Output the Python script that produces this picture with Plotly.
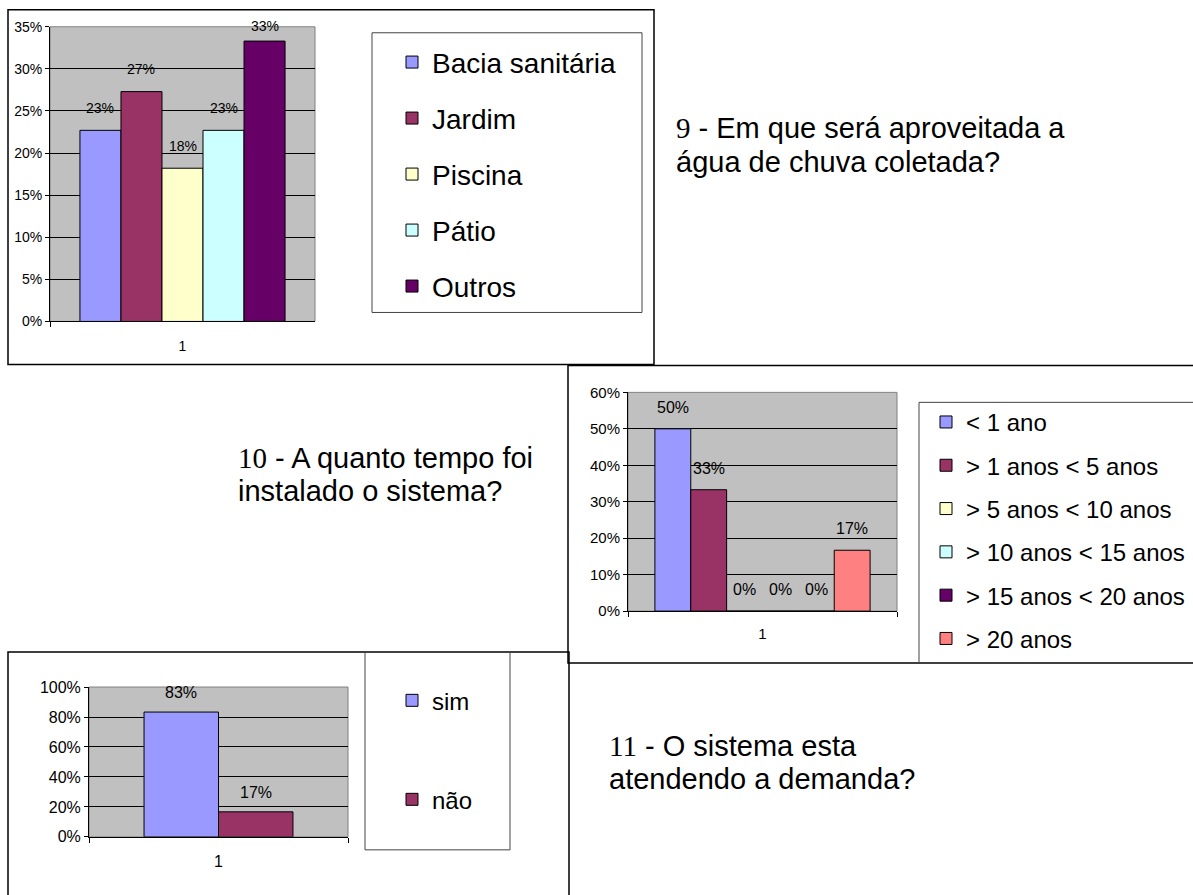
import plotly.graph_objects as go

W, H = 1193, 895
FONT = "Liberation Sans, Arial, Helvetica, sans-serif"
SERIF = "Liberation Serif"

# ---------------- data ----------------
x_categoria = ["1"]

uso_categorias = ["Bacia sanitária", "Jardim", "Piscina", "Pátio", "Outros"]
uso_valores = [0.227, 0.273, 0.182, 0.227, 0.333]
uso_cores = ["#9999FF", "#993366", "#FFFFCC", "#CCFFFF", "#660066"]

tempo_categorias = ["< 1 ano", "> 1 anos < 5 anos", "> 5 anos < 10 anos",
                    "> 10 anos < 15 anos", "> 15 anos < 20 anos", "> 20 anos"]
tempo_valores = [0.50, 0.333, 0.0, 0.0, 0.0, 0.167]
tempo_cores = ["#9999FF", "#993366", "#FFFFCC", "#CCFFFF", "#660066", "#FF8080"]

demanda_categorias = ["sim", "não"]
demanda_valores = [0.833, 0.167]
demanda_cores = ["#9999FF", "#993366"]

pergunta9 = [f"<span style='font-family:{SERIF}'>9</span> - Em que será aproveitada a",
             "água de chuva coletada?"]
pergunta10 = [f"<span style='font-family:{SERIF}'>10</span> - A quanto tempo foi",
              "instalado o sistema?"]
pergunta11 = [f"<span style='font-family:{SERIF}'>11</span> - O sistema esta",
              "atendendo a demanda?"]

# the page is photographed with a small vertical offset/compression; compensate
Y_OFF, Y_SCALE = 8.2, 0.981


def px_x(p):
    return p / W


def px_y(p):
    return 1 - ((p - Y_OFF) / Y_SCALE) / H


charts = [
    dict(cats=uso_categorias, vals=uso_valores, cols=uso_cores, ax="", legend="legend",
         left=50, right=315, top=26, bottom=321, ymax=0.35, dtick=0.05, group=0.774,
         tickfont=14, labfont=14, labshift=22, xstand=12),
    dict(cats=tempo_categorias, vals=tempo_valores, cols=tempo_cores, ax="2", legend="legend2",
         left=628, right=897, top=392, bottom=611, ymax=0.60, dtick=0.1, group=0.80,
         tickfont=15, labfont=16, labshift=21, xstand=9),
    dict(cats=demanda_categorias, vals=demanda_valores, cols=demanda_cores, ax="3", legend="legend3",
         left=89, right=348, top=687, bottom=837, ymax=1.0, dtick=0.2, group=0.575,
         tickfont=16, labfont=16, labshift=19, xstand=10),
]

fig = go.Figure()
annotations = []
shapes = []
layout_axes = {}

for k, c in enumerate(charts):
    n = len(c["cats"])
    w = c["group"] / n
    xa = "x" + c["ax"]
    ya = "y" + c["ax"]
    for i, (name, v, col) in enumerate(zip(c["cats"], c["vals"], c["cols"])):
        off = -c["group"] / 2 + i * w
        fig.add_trace(go.Bar(
            x=x_categoria, y=[v], name=name, width=w, offset=off,
            marker=dict(color=col, line=dict(color="black", width=1)),
            xaxis=xa, yaxis=ya, legend=c["legend"], legendgroup=f"g{k}_{i}",
            hovertemplate="%{y:.0%}<extra>" + name + "</extra>",
        ))
        bar_top = c["bottom"] - v / c["ymax"] * (c["bottom"] - c["top"])
        shift = min(c["labshift"], bar_top - c["top"])
        annotations.append(dict(
            x=off + w / 2, y=v, xref=xa, yref=ya, text=f"{v:.0%}",
            showarrow=False, yanchor="middle", xanchor="center", yshift=shift / Y_SCALE,
            font=dict(size=c["labfont"], family=FONT, color="black"),
        ))
    layout_axes["xaxis" + c["ax"]] = dict(
        domain=[px_x(c["left"]), px_x(c["right"])], anchor=ya, type="category",
        range=[-0.5, 0.5], showline=True, linecolor="black", linewidth=1,
        ticks="outside", tickson="boundaries", ticklen=5, tickcolor="black",
        showgrid=False, zeroline=False, fixedrange=True,
        tickfont=dict(size=c["tickfont"], family=FONT, color="black"),
        ticklabelstandoff=c["xstand"],
    )
    layout_axes["yaxis" + c["ax"]] = dict(
        domain=[px_y(c["bottom"]), px_y(c["top"])], anchor=xa,
        range=[0, c["ymax"] * 1.000001], dtick=c["dtick"], tick0=0, tickformat=".0%",
        showline=True, linecolor="black", linewidth=1, ticks="outside", ticklen=4,
        tickcolor="black", showgrid=True, gridcolor="black", gridwidth=1,
        zeroline=False, fixedrange=True,
        tickfont=dict(size=c["tickfont"], family=FONT, color="black"),
    )
    shapes.append(dict(type="rect", xref=xa + " domain", yref=ya + " domain",
                       x0=0, x1=1, y0=0, y1=1, line=dict(color="#808080", width=1),
                       layer="below"))


def frame(x0, y0, x1, y1, color="black", width=1.5):
    return dict(type="rect", xref="paper", yref="paper",
                x0=px_x(x0), x1=px_x(x1), y0=px_y(y1), y1=px_y(y0),
                line=dict(color=color, width=width), layer="above")


shapes += [
    frame(8, 9, 654, 364),
    frame(568, 365, 1200, 663),
    frame(8, 652, 569, 920),
    frame(372, 32, 642, 312, color="#444444", width=1),
    frame(919, 402, 1200, 663, color="#444444", width=1),
    frame(365, 652, 510, 850, color="#444444", width=1),
]

for lines, xp, ys in [(pergunta9, 674, (127.5, 161)),
                      (pergunta10, 236, (458, 491)),
                      (pergunta11, 607, (746, 779))]:
    for txt, yp in zip(lines, ys):
        annotations.append(dict(
            x=px_x(xp), y=px_y(yp), xref="paper", yref="paper", text=txt,
            showarrow=False, xanchor="left", yanchor="middle", align="left",
            font=dict(size=29, family=FONT, color="black"),
        ))

legend_common = dict(xanchor="left", yanchor="top", bgcolor="rgba(0,0,0,0)",
                     borderwidth=0, traceorder="grouped", itemclick=False,
                     itemdoubleclick=False)

fig.update_layout(
    width=W, height=H, autosize=False,
    margin=dict(l=0, r=0, t=0, b=0, pad=0),
    paper_bgcolor="white", plot_bgcolor="#C0C0C0",
    barmode="group",
    showlegend=True,
    font=dict(family=FONT, color="black"),
    annotations=annotations,
    shapes=shapes,
    legend=dict(x=px_x(392), y=px_y(36.6), tracegroupgap=16.6,
                font=dict(size=28, family=FONT, color="black"), **legend_common),
    legend2=dict(x=px_x(926), y=px_y(399.5), tracegroupgap=9.1,
                 font=dict(size=24, family=FONT, color="black"), **legend_common),
    legend3=dict(x=px_x(392), y=px_y(678.2), tracegroupgap=64.8,
                 font=dict(size=24, family=FONT, color="black"), **legend_common),
    **layout_axes,
)

fig.write_html("out.html")
